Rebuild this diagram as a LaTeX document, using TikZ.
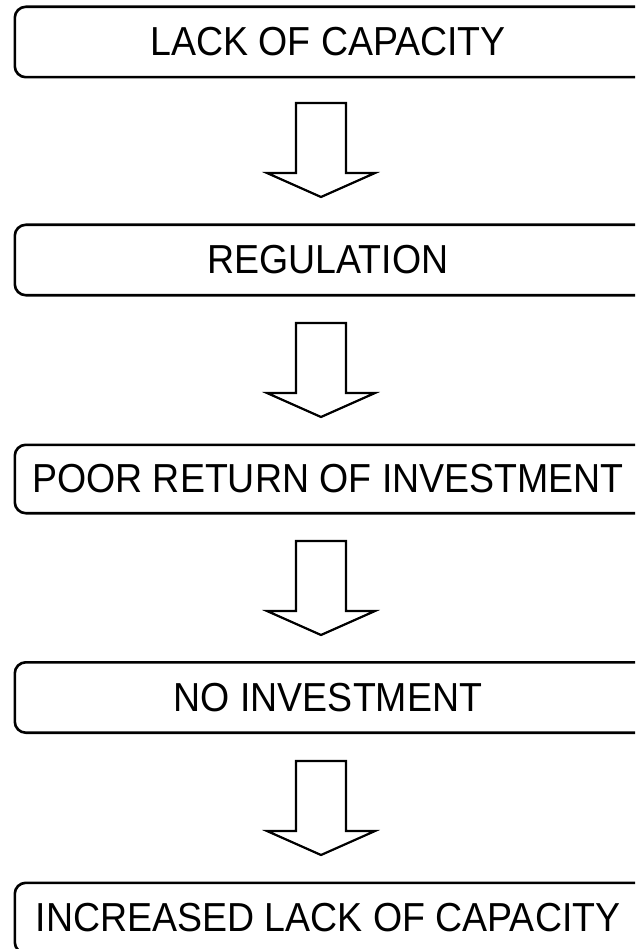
\documentclass[tikz,border=0pt]{standalone}
\usepackage{fontspec}
\setmainfont{Liberation Sans}
\begin{document}
\begin{tikzpicture}[x=1pt,y=-1pt,
  stagebox/.style={minimum width=626pt,minimum height=70pt,inner sep=0pt,anchor=center,font=\fontsize{37.5}{40}\selectfont},
  frame/.style={draw=black,line width=2.6pt,rounded corners=11pt},
  blockarrow/.style={draw=black,line width=2.2pt,fill=white,line join=miter}]
\useasboundingbox (0,0) rectangle (635,949);
\clip (0,0) rectangle (635,949);
\fill[white] (0,0) rectangle (635,949);
\node[stagebox] (b1) at (328,42) {\scalebox{1}[1.08]{LACK OF CAPACITY}};
\node[stagebox] (b2) at (328,260) {\scalebox{1}[1.08]{REGULATION}};
\node[stagebox,minimum height=68pt] (b3) at (328,479) {\scalebox{1}[1.08]{POOR RETURN OF INVESTMENT}};
\node[stagebox] (b4) at (328,697.5) {\scalebox{1}[1.08]{NO INVESTMENT}};
\node[stagebox] (b5) at (328,918) {\scalebox{1}[1.08]{INCREASED LACK OF CAPACITY}};
\foreach \b in {b1,b2,b3,b4,b5}{
  \draw[frame] (\b.north west) rectangle ([xshift=30pt]\b.south east);
}
\foreach \t in {103,323,541,761}{
  \draw[blockarrow] (296,\t) -- (346,\t) -- (346,\t+70) -- (375,\t+70) -- (321,\t+94) -- (267,\t+70) -- (296,\t+70) -- cycle;
}
\end{tikzpicture}
\end{document}
